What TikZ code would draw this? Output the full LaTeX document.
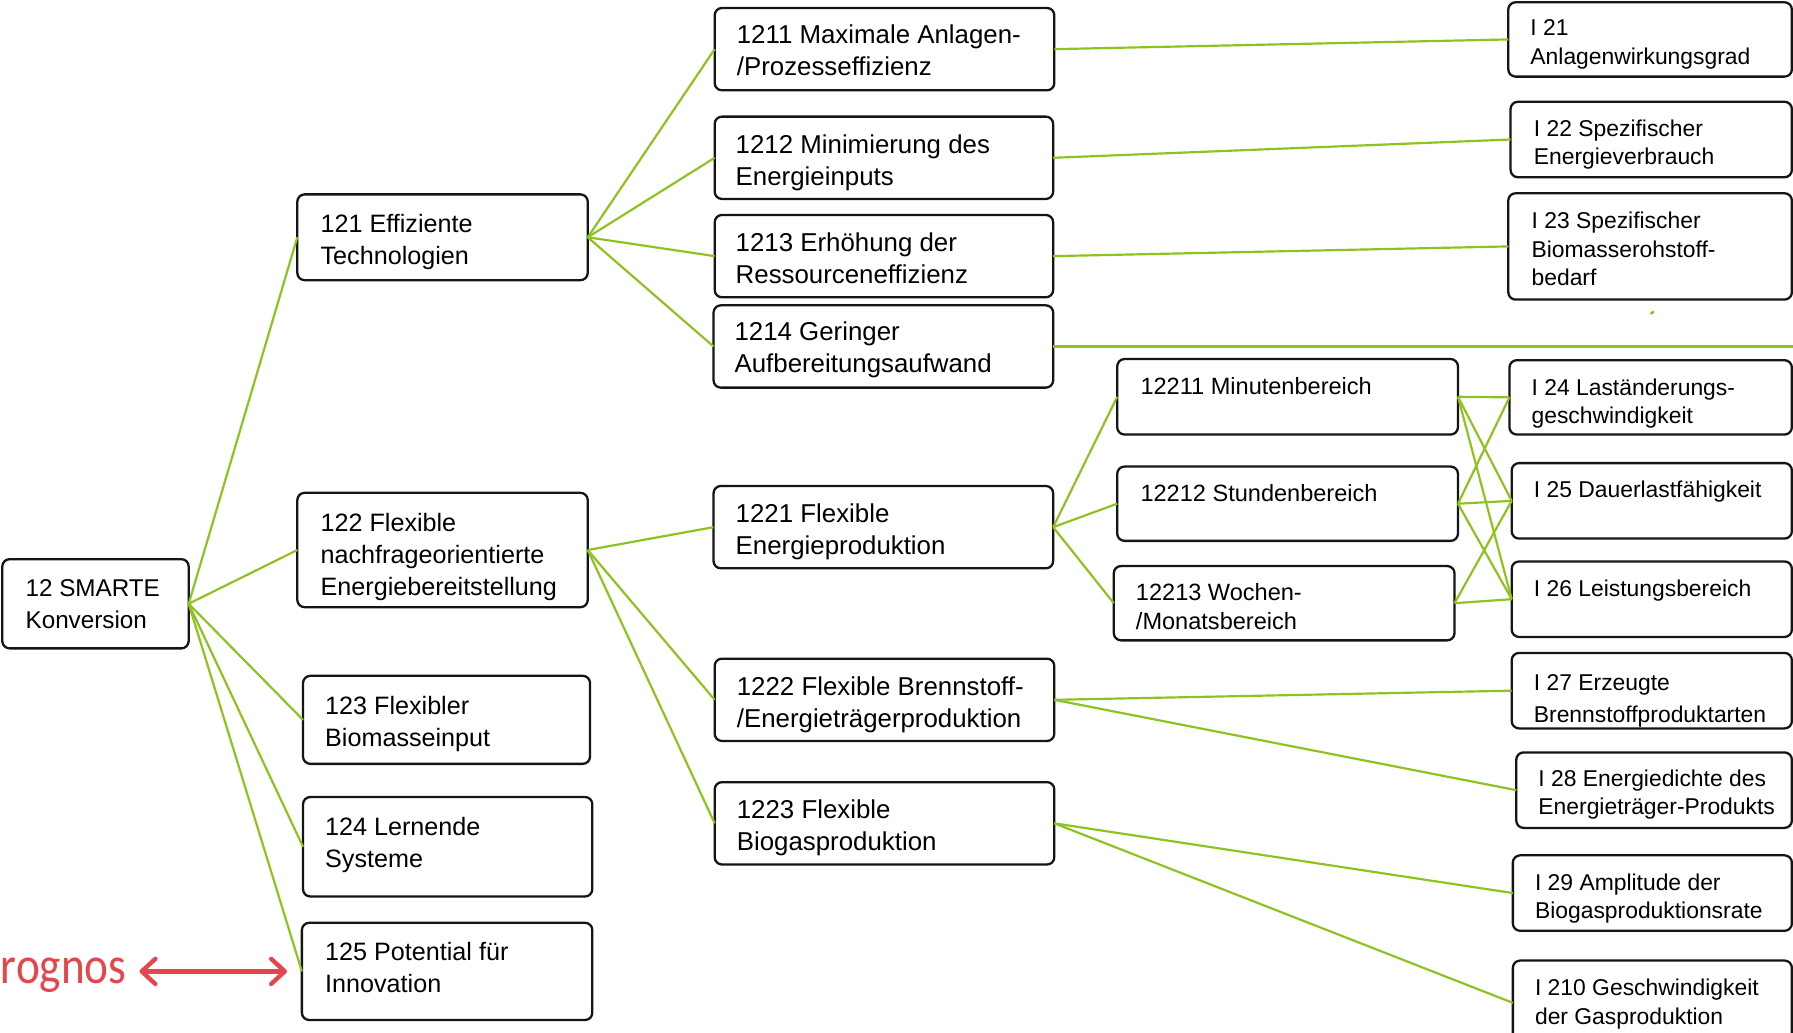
\documentclass[tikz,border=0pt]{standalone}
\usepackage{fontspec}
\setmainfont{Liberation Sans}
\newfontfamily\brandfont[FakeStretch=0.86]{Carlito}
\usetikzlibrary{arrows.meta}

\definecolor{leaf}{HTML}{8DC21F}
\definecolor{signal}{HTML}{E4474B}
\definecolor{frameink}{HTML}{151515}

% left-aligned stack of lines whose baseline is the first line
\newcommand\stackl[1]{\begin{tabular}[t]{@{}l@{}}#1\end{tabular}}

% \mkbox{name}{text style}{x1}{y1}{x2}{y2}{text x}{first baseline}{lines}
\newcommand\mkbox[9]{%
  \node[frame, minimum width={(#5-#3)*0.5pt}, minimum height={(#6-#4)*0.5pt}]
    (#1) at ({(#3+#5)/2},{(#4+#6)/2}) {};
  \node[#2, anchor=base west, inner sep=0pt] (#1-txt) at (#7,#8) {\stackl{#9}};
}

\tikzset{
  frame/.style={draw=frameink, line width=1pt, rounded corners=3.2pt,
    inner sep=0pt, outer sep=0pt, fill=white},
  colA/.style={font=\fontsize{10.6}{14}\selectfont},
  colB/.style={font=\fontsize{11}{14}\selectfont},
  colC/.style={font=\fontsize{11.3}{14}\selectfont},
  colD/.style={font=\fontsize{10.3}{12.8}\selectfont},
  colE/.style={font=\fontsize{10}{12.5}\selectfont},
  colF/.style={font=\fontsize{10}{12.3}\selectfont},
  colG/.style={font=\fontsize{10}{14}\selectfont},
  link/.style={draw=leaf, line width=0.95pt},
  pointer/.style={draw=signal, line width=1.9pt,
    {Straight Barb[length=6pt,width=11pt,round]}-{Straight Barb[length=6pt,width=11pt,round]}},
}

\begin{document}
\begin{tikzpicture}[x=0.5pt, y=-0.5pt]
\clip (0,0) rectangle (1568,903);
\fill[white] (0,0) rectangle (1568,903);

% root
\mkbox{n12}{colA}{2}{489}{165}{567}{22}{522}{12 SMARTE\\Konversion}

% second level
\mkbox{n121}{colB}{260}{170}{514}{245}{280}{203}{121 Effiziente\\Technologien}
\mkbox{n122}{colB}{260}{431}{514}{531}{280}{465}{122 Flexible\\nachfrageorientierte\\Energiebereitstellung}
\mkbox{n123}{colB}{265}{591}{516}{668}{284}{625}{123 Flexibler\\Biomasseinput}
\mkbox{n124}{colB}{265}{697}{518}{784}{284}{731}{124 Lernende\\Systeme}
\mkbox{n125}{colB}{264}{807}{518}{892}{284}{840}{125 Potential für\\Innovation}

% third level
\mkbox{n1211}{colC}{625}{7}{922}{79}{644}{38}{1211 Maximale Anlagen-\\/Prozesseffizienz}
\mkbox{n1212}{colC}{625}{102}{921}{174}{643}{134}{1212 Minimierung des\\Energieinputs}
\mkbox{n1213}{colC}{625}{188}{921}{260}{643}{220}{1213 Erhöhung der\\Ressourceneffizienz}
\mkbox{n1214}{colC}{624}{267}{921}{339}{642}{298}{1214 Geringer\\Aufbereitungsaufwand}
\mkbox{n1221}{colC}{624}{425}{921}{497}{643}{457}{1221 Flexible\\Energieproduktion}
\mkbox{n1222}{colC}{625}{576}{922}{648}{644}{608}{1222 Flexible Brennstoff-\\/Energieträgerproduktion}
\mkbox{n1223}{colC}{625}{684}{922}{756}{644}{716}{1223 Flexible\\Biogasproduktion}

% fourth level
\mkbox{n12211}{colD}{977}{314}{1275}{380}{997}{345}{12211 Minutenbereich}
\mkbox{n12212}{colD}{977}{408}{1275}{473}{997}{439}{12212 Stundenbereich}
\mkbox{n12213}{colD}{974}{495}{1272}{560}{993}{525}{12213 Wochen-\\/Monatsbereich}

% indicators
\mkbox{i21}{colE}{1319}{2}{1567}{67}{1338}{31}{I 21\\Anlagenwirkungsgrad}
\mkbox{i22}{colE}{1321}{89}{1567}{155}{1341}{119}{I 22 Spezifischer\\Energieverbrauch}
\mkbox{i23}{colE}{1319}{169}{1567}{262}{1339}{200}{I 23 Spezifischer\\Biomasserohstoff-\\bedarf}
\mkbox{i24}{colF}{1320}{315}{1567}{380}{1339}{346}{I 24 Laständerungs-\\geschwindigkeit}
\mkbox{i25}{colF}{1322}{405}{1567}{471}{1341}{435}{I 25 Dauerlastfähigkeit}
\mkbox{i26}{colF}{1322}{491}{1567}{557}{1341}{522}{I 26 Leistungsbereich}
\mkbox{i27}{colG}{1322}{571}{1567}{637}{1341}{604}{I 27 Erzeugte\\Brennstoffproduktarten}
\mkbox{i28}{colF}{1326}{658}{1567}{724}{1345}{688}{I 28 Energiedichte des\\Energieträger-Produkts}
\mkbox{i29}{colF}{1323}{748}{1567}{814}{1342}{779}{I 29 Amplitude der\\Biogasproduktionsrate}
\mkbox{i210}{colF}{1323}{840}{1567}{914}{1342}{871}{I 210 Geschwindigkeit\\der Gasproduktion}

% ---- connectors ----
\foreach \t in {n121,n122,n123,n124,n125} \draw[link] (n12.east) -- (\t.west);
\foreach \t in {n1211,n1212,n1213,n1214} \draw[link] (n121.east) -- (\t.west);
\foreach \t in {n1221,n1222,n1223} \draw[link] (n122.east) -- (\t.west);
\foreach \t in {n12211,n12212,n12213} \draw[link] (n1221.east) -- (\t.west);
\draw[link] (n1211.east) -- (i21.west);
\draw[link] (n1212.east) -- (i22.west);
\draw[link] (n1213.east) -- (i23.west);
\coordinate (rim) at (1570,303);
\draw[link] (n1214.east) -- (rim);
\foreach \t in {i24,i25,i26} {
  \draw[link] (n12211.east) -- (\t.west);
  \draw[link] (n12212.east) -- (\t.west);
}
\draw[link] (n12213.east) -- (i25.west);
\draw[link] (n12213.east) -- (i26.west);
\draw[link] (n1222.east) -- (i27.west);
\draw[link] (n1222.east) -- (i28.west);
\draw[link] (n1223.east) -- (i29.west);
\draw[link] (n1223.east) -- (i210.west);

% stray green fleck
\draw[leaf, line width=1.1pt] (1443.5,274.6) -- (1446.2,272.4);

% brand label with double arrow
\node[font=\brandfont\fontsize{23}{28}\selectfont, text=signal, anchor=base east,
  inner sep=0pt] (brand) at (111,860) {rognos};
\draw[pointer] ([xshift=5.5pt]n125.west -| brand.east) -- ([xshift=-6.5pt]n125.west);
\end{tikzpicture}
\end{document}
